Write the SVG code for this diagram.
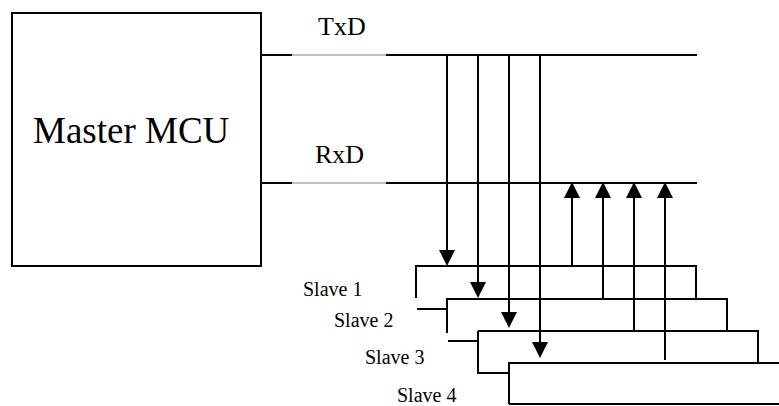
<svg xmlns="http://www.w3.org/2000/svg" width="779" height="406" viewBox="0 0 779 406">
<style>
.ln{fill:none;stroke:#000;stroke-width:2;stroke-linecap:butt}
.thin{fill:none;stroke:#808080;stroke-width:1}
.t{font-family:"Liberation Serif","Times New Roman",serif;fill:#000}
</style>
<defs>
<marker id="ah" markerUnits="userSpaceOnUse" markerWidth="16" markerHeight="16" refX="0" refY="7.5" orient="auto" viewBox="0 0 15 15">
<path d="M0,0 L15,7.5 L0,15 Z" fill="#000"/>
</marker>
</defs>
<rect width="779" height="406" fill="#fff"/>
<g id="master">
<rect class="ln" x="12" y="13" width="249" height="253"/>
<text class="t" x="33" y="143" font-size="37">Master MCU</text>
</g>
<g id="bus-txd">
<path class="ln" d="M261,55 H292 M386,55 H697"/>
<path class="thin" d="M292,55 H386"/>
<text class="t" x="318" y="35" font-size="26">TxD</text>
</g>
<g id="bus-rxd">
<path class="ln" d="M261,183 H292 M386,183 H697"/>
<path class="thin" d="M292,183 H386"/>
<text class="t" x="315" y="163" font-size="26">RxD</text>
</g>
<g id="slave1">
<path class="ln" d="M416,298 V266 H696 V299 M417,309 H447"/>
<text class="t" x="303" y="296" font-size="20">Slave 1</text>
</g>
<g id="slave2">
<path class="ln" d="M447,333 V299 H727 V331 M448,341 H478"/>
<text class="t" x="334" y="327" font-size="20">Slave 2</text>
</g>
<g id="slave3">
<path class="ln" d="M478,331 V373 H509 M478,331 H758 V363"/>
<text class="t" x="365" y="364" font-size="20">Slave 3</text>
</g>
<g id="slave4">
<path class="ln" d="M509,404 V363 H780 M509,404 H780"/>
<text class="t" x="397" y="402" font-size="20">Slave 4</text>
</g>
<g id="connectors">
<line class="ln" x1="447" y1="55" x2="447" y2="250" marker-end="url(#ah)"/>
<line class="ln" x1="478" y1="55" x2="478" y2="282" marker-end="url(#ah)"/>
<line class="ln" x1="509" y1="55" x2="509" y2="312" marker-end="url(#ah)"/>
<line class="ln" x1="540" y1="55" x2="540" y2="342" marker-end="url(#ah)"/>
<line class="ln" x1="572" y1="266" x2="572" y2="198" marker-end="url(#ah)"/>
<line class="ln" x1="603" y1="300" x2="603" y2="198" marker-end="url(#ah)"/>
<line class="ln" x1="634" y1="332" x2="634" y2="198" marker-end="url(#ah)"/>
<line class="ln" x1="665" y1="360" x2="665" y2="198" marker-end="url(#ah)"/>
</g>
</svg>
